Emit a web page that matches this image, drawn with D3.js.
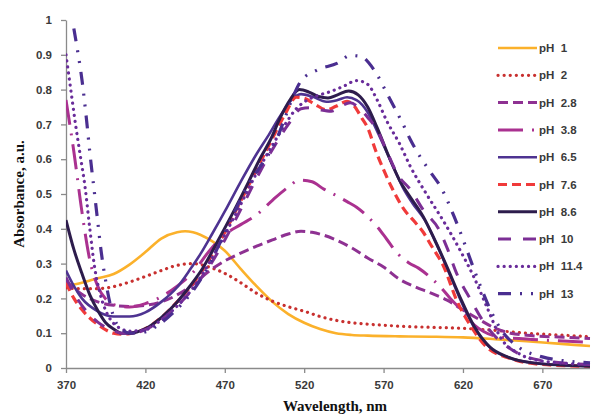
<!DOCTYPE html>
<html><head><meta charset="utf-8">
<script src="https://cdn.jsdelivr.net/npm/d3@7"></script>
<style>
html,body{margin:0;padding:0;background:#fff;}
svg{display:block;}
</style></head>
<body>
<svg id="chart" width="592" height="415"></svg>
<script>
// ---- data (wavelength nm, absorbance a.u.) ----
const ph1 = [[370,0.236],[380,0.245],[390,0.258],[400,0.27],[410,0.297],[420,0.333],[430,0.372],[440,0.39],[445,0.393],[450,0.39],[460,0.37],[470,0.337],[480,0.285],[490,0.235],[500,0.19],[510,0.155],[520,0.13],[530,0.112],[540,0.1],[550,0.095],[560,0.093],[580,0.091],[600,0.09],[620,0.088],[640,0.083],[660,0.077],[680,0.07],[700,0.063]];
const ph2 = [[370,0.23],[380,0.228],[390,0.228],[400,0.234],[410,0.247],[420,0.263],[430,0.28],[440,0.295],[450,0.3],[460,0.29],[470,0.272],[480,0.245],[490,0.215],[500,0.192],[510,0.176],[520,0.163],[530,0.148],[540,0.137],[550,0.13],[560,0.126],[570,0.123],[580,0.12],[600,0.117],[620,0.114],[640,0.108],[660,0.1],[680,0.095],[700,0.09]];
const ph28 = [[370,0.25],[380,0.212],[390,0.19],[400,0.18],[410,0.177],[420,0.18],[430,0.19],[440,0.21],[450,0.24],[460,0.278],[470,0.308],[480,0.33],[490,0.35],[500,0.368],[510,0.385],[518,0.393],[525,0.39],[532,0.382],[540,0.368],[550,0.345],[560,0.316],[570,0.29],[580,0.255],[590,0.233],[600,0.215],[610,0.195],[620,0.167],[630,0.14],[640,0.115],[650,0.1],[660,0.094],[680,0.089],[700,0.085]];
const ph38 = [[370,0.77],[375,0.62],[380,0.45],[385,0.31],[390,0.235],[395,0.198],[400,0.182],[410,0.175],[420,0.185],[430,0.205],[440,0.235],[450,0.275],[460,0.335],[470,0.383],[480,0.412],[490,0.44],[500,0.482],[510,0.52],[517,0.54],[525,0.535],[532,0.515],[540,0.496],[547,0.478],[553,0.462],[560,0.435],[566,0.406],[572,0.37],[579,0.328],[586,0.302],[592,0.287],[600,0.258],[606,0.232],[612,0.2],[617,0.176],[622,0.15],[627,0.124],[633,0.105],[640,0.092],[660,0.083],[680,0.078],[700,0.074]];
const ph65 = [[370,0.28],[375,0.235],[380,0.2],[390,0.163],[400,0.148],[410,0.148],[420,0.16],[430,0.19],[440,0.232],[448,0.282],[455,0.33],[462,0.385],[470,0.45],[480,0.535],[490,0.615],[497,0.665],[505,0.725],[512,0.77],[518,0.787],[525,0.78],[534,0.765],[541,0.77],[547,0.778],[553,0.77],[560,0.735],[566,0.68],[575,0.59],[582,0.52],[588,0.475],[596,0.425],[604,0.35],[612,0.265],[620,0.18],[628,0.11],[638,0.055],[650,0.028],[670,0.012],[700,0.005]];
const ph76 = [[370,0.245],[375,0.2],[380,0.168],[390,0.125],[400,0.1],[405,0.097],[410,0.099],[420,0.113],[430,0.145],[440,0.19],[450,0.243],[460,0.31],[470,0.39],[480,0.48],[490,0.57],[500,0.66],[508,0.73],[515,0.778],[520,0.775],[527,0.757],[534,0.742],[540,0.752],[547,0.766],[552,0.75],[556,0.72],[560,0.69],[565,0.625],[570,0.57],[575,0.52],[583,0.455],[590,0.418],[595,0.39],[600,0.352],[608,0.29],[616,0.195],[625,0.12],[635,0.06],[648,0.03],[670,0.01],[700,0.005]];
const ph86 = [[370,0.425],[375,0.34],[380,0.272],[385,0.21],[390,0.165],[395,0.13],[400,0.112],[405,0.1],[410,0.1],[420,0.113],[430,0.145],[440,0.19],[448,0.235],[456,0.286],[465,0.36],[475,0.445],[485,0.535],[492,0.6],[499,0.658],[505,0.72],[511,0.77],[517,0.8],[523,0.793],[529,0.78],[535,0.776],[541,0.785],[548,0.796],[554,0.785],[560,0.75],[566,0.69],[574,0.6],[580,0.54],[587,0.49],[595,0.435],[602,0.37],[610,0.29],[619,0.195],[627,0.12],[637,0.06],[648,0.032],[665,0.014],[700,0.005]];
const ph10 = [[370,0.26],[375,0.215],[380,0.18],[390,0.132],[400,0.107],[405,0.1],[410,0.1],[420,0.11],[430,0.138],[440,0.178],[450,0.228],[460,0.29],[470,0.368],[480,0.455],[490,0.545],[500,0.628],[510,0.7],[518,0.745],[524,0.748],[530,0.742],[537,0.738],[543,0.752],[549,0.762],[555,0.745],[560,0.72],[566,0.684],[572,0.623],[579,0.555],[587,0.512],[595,0.454],[605,0.397],[610,0.345],[616,0.272],[625,0.195],[635,0.119],[648,0.061],[660,0.032],[680,0.016],[700,0.01]];
const ph114 = [[370,0.9],[373,0.8],[376,0.7],[379,0.61],[382,0.52],[385,0.4],[388,0.29],[392,0.205],[396,0.155],[400,0.128],[405,0.112],[410,0.106],[420,0.11],[430,0.138],[440,0.178],[450,0.23],[460,0.3],[470,0.383],[480,0.47],[490,0.56],[500,0.64],[508,0.7],[515,0.745],[522,0.77],[530,0.785],[537,0.795],[545,0.81],[553,0.826],[560,0.815],[566,0.77],[572,0.71],[580,0.645],[587,0.578],[597,0.5],[608,0.42],[618,0.34],[627,0.26],[635,0.176],[644,0.085],[655,0.042],[670,0.02],[700,0.01]];
const ph13 = [[370,1.1],[374,1.0],[377,0.92],[380,0.83],[383,0.71],[385,0.62],[388,0.5],[390,0.42],[392,0.34],[395,0.25],[398,0.18],[401,0.135],[405,0.112],[410,0.1],[420,0.104],[430,0.13],[440,0.17],[450,0.222],[460,0.295],[467,0.36],[475,0.438],[484,0.52],[494,0.59],[501,0.64],[508,0.72],[513,0.78],[518,0.825],[528,0.856],[541,0.876],[549,0.898],[556,0.895],[561,0.875],[566,0.842],[572,0.79],[577,0.747],[582,0.703],[587,0.655],[593,0.607],[600,0.56],[606,0.52],[614,0.44],[620,0.37],[626,0.295],[632,0.224],[638,0.16],[644,0.11],[655,0.06],[670,0.032],[685,0.02],[700,0.015]];

const seriesNames = ["pH  1","pH  2","pH  2.8","pH  3.8","pH  6.5","pH  7.6","pH  8.6","pH  10","pH  11.4","pH  13"];
const seriesData = [ph1, ph2, ph28, ph38, ph65, ph76, ph86, ph10, ph114, ph13];
const xTicks = [370,420,470,520,570,620,670];
const yTicks = [0,0.1,0.2,0.3,0.4,0.5,0.6,0.7,0.8,0.9,1];

// ---- styles ----
const styles = [
  {color:"#FBB12B", dash:null, w:2.6, cap:"butt"},
  {color:"#C8302F", dash:"0.1 6", w:3.2, cap:"round"},
  {color:"#8E3192", dash:"10 5", w:3, cap:"butt"},
  {color:"#AA3190", dash:"25 9 2 9", w:3, cap:"butt"},
  {color:"#4E3391", dash:null, w:2.6, cap:"butt"},
  {color:"#F03A3A", dash:"9 5", w:3.2, cap:"butt"},
  {color:"#2D1C4C", dash:null, w:3, cap:"butt"},
  {color:"#7C2F95", dash:"13 12", w:3, cap:"butt"},
  {color:"#692C9A", dash:"0.1 6", w:3.2, cap:"round"},
  {color:"#4A2E90", dash:"13 9 2 9 2 9", w:3.2, cap:"butt"}
];

const svg = d3.select("#chart");
const L = 66, R = 590, T = 20, B = 368;
const x = d3.scaleLinear().domain([370,700]).range([L,R]);
const y = d3.scaleLinear().domain([0,1]).range([B,T]);
const axisColor = "#8a8a8a";

svg.append("defs").append("clipPath").attr("id","clip")
  .append("rect").attr("x",L).attr("y",T).attr("width",R-L+2).attr("height",B-T);

// axes
const gx = svg.append("g").attr("transform",`translate(0,${B})`)
  .call(d3.axisBottom(x).tickValues(xTicks).tickSize(5).tickSizeOuter(0).tickPadding(8).tickFormat(d3.format("d")));
const gy = svg.append("g").attr("transform",`translate(${L},0)`)
  .call(d3.axisLeft(y).tickValues(yTicks).tickSize(5).tickSizeOuter(0).tickPadding(9).tickFormat(d=> d===0?"0":d===1?"1":d3.format(".1f")(d)));
[gx,gy].forEach(g=>{
  g.select(".domain").attr("stroke",axisColor).attr("stroke-width",1.3);
  g.selectAll(".tick line").attr("stroke",axisColor).attr("stroke-width",1.3);
  g.selectAll(".tick text").attr("fill","#3a3a3a").attr("font-family","Liberation Sans, Arial, sans-serif")
    .attr("font-size","11.5px").attr("font-weight","bold");
});
gx.select(".domain").attr("d",`M${L},0.5H${R}`);

// lines
const line = d3.line().x(d=>x(d[0])).y(d=>y(d[1])).curve(d3.curveMonotoneX);
const plot = svg.append("g").attr("clip-path","url(#clip)");
seriesData.forEach((data,i)=>{
  const s = styles[i];
  plot.append("path").datum(data).attr("d",line)
    .attr("fill","none").attr("stroke",s.color).attr("stroke-width",s.w)
    .attr("stroke-linecap",s.cap).attr("stroke-linejoin","round")
    .attr("stroke-dasharray",s.dash);
});

// legend
const legend = svg.append("g");
seriesNames.forEach((name,i)=>{
  const s = styles[i];
  const ly = 48 + i*27.3;
  legend.append("line").attr("x1",498).attr("x2",537).attr("y1",ly).attr("y2",ly)
    .attr("stroke",s.color).attr("stroke-width",s.w).attr("stroke-linecap",s.cap)
    .attr("stroke-dasharray",s.dash);
  legend.append("text").attr("x",539).attr("y",ly+4).attr("xml:space","preserve")
    .style("white-space","pre")
    .attr("font-family","Liberation Sans, Arial, sans-serif").attr("font-size","11.5px")
    .attr("font-weight","bold").attr("fill","#3a3a3a").text(name);
});

// titles
svg.append("text").attr("x",335).attr("y",411).attr("text-anchor","middle")
  .attr("font-family","Liberation Serif, Times New Roman, serif").attr("font-weight","bold")
  .attr("font-size","15px").attr("fill","#111").text("Wavelength, nm");
svg.append("text").attr("transform","translate(24,194) rotate(-90)").attr("text-anchor","middle")
  .attr("font-family","Liberation Serif, Times New Roman, serif").attr("font-weight","bold")
  .attr("font-size","15px").attr("fill","#111").text("Absorbance, a.u.");
</script>
</body></html>
